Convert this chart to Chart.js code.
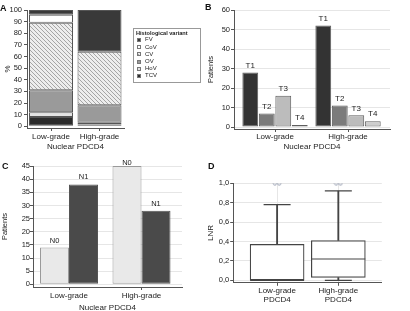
<!DOCTYPE html>
<html><head><meta charset="utf-8">
<script src="https://cdn.jsdelivr.net/npm/chart.js@4"></script>
<style>
body{margin:0;width:410px;height:311px;overflow:hidden;position:relative;background:#fff;font-family:'Liberation Sans',Arial,sans-serif;color:#222}
canvas{position:absolute;display:block}
.lt{position:absolute;font-weight:bold;font-size:9px;line-height:9px;color:#111}
#lg{position:absolute;left:133px;top:28px;width:68px;height:55px;border:1px solid #999;box-sizing:border-box;background:#fff;opacity:0.999;will-change:transform}
#lg .tt{position:absolute;left:2px;top:0;height:8px;line-height:8px;font-size:5.6px;font-weight:bold;white-space:nowrap;color:#222}
#lg .row{position:absolute;left:3px;height:7.2px;line-height:7.2px;font-size:6px;white-space:nowrap;color:#222}
#lg .sw{position:absolute;left:0;top:1.6px;width:4px;height:4px;box-sizing:border-box;border:0.5px solid #777}
#lg .tx{position:absolute;left:8px;top:0}
</style></head><body>
<canvas id="ca" width="205" height="155" style="left:0;top:0"></canvas>
<canvas id="cb" width="205" height="155" style="left:205px;top:0"></canvas>
<canvas id="cc" width="205" height="158" style="left:0;top:155px"></canvas>
<canvas id="cd" width="205" height="156" style="left:205px;top:155px"></canvas>
<div id="lg"></div>
<div class="lt" style="left:0;top:4px">A</div>
<div class="lt" style="left:205px;top:2.5px">B</div>
<div class="lt" style="left:2px;top:162px">C</div>
<div class="lt" style="left:208px;top:162px">D</div>
<script>
// ---------- DATA ----------
const grades = ['Low-grade', 'High-grade'];
// Panel A: histological variant share (%), legend order
const variants = ['FV', 'CoV', 'CV', 'OV', 'HoV', 'TCV'];
const pctLow  = [4, 7, 58, 19, 4, 8];
const pctHigh = [36, 0, 46, 15, 1.5, 1.5];
const ticksA = [0, 10, 20, 30, 40, 50, 60, 70, 80, 90, 100];
// Panel B: T stage counts
const tStages = ['T1', 'T2', 'T3', 'T4'];
const tLow  = [28, 7, 16, 1];
const tHigh = [52, 11, 6, 3];
const ticksB = [0, 10, 20, 30, 40, 50, 60];
// Panel C: N stage counts
const nStages = ['N0', 'N1'];
const nLow  = [14, 38];
const nHigh = [45, 28];
const ticksC = [0, 5, 10, 15, 20, 25, 30, 35, 40, 45];
// Panel D: LNR box plot
const dLabels = [['Low-grade', 'PDCD4'], ['High-grade', 'PDCD4']];
const lnrMin    = [0, 0];
const lnrQ1     = [0, 0.03];
const lnrMedian = [0, 0.22];
const lnrQ3     = [0.37, 0.41];
const lnrMax    = [0.78, 0.92];
const lnrOutliers = [1.0, 1.0];
const ticksD = [0, 0.2, 0.4, 0.6, 0.8, 1.0];

// ---------- STYLE ----------
Chart.defaults.font.family = "'Liberation Sans', Arial, Helvetica, sans-serif";
Chart.defaults.color = '#222';
const FONT = "'Liberation Sans', Arial, Helvetica, sans-serif";

function hatch(ctx) {
  const c = document.createElement('canvas'); c.width = 4; c.height = 4;
  const x = c.getContext('2d');
  x.fillStyle = '#ededed'; x.fillRect(0, 0, 4, 4);
  x.strokeStyle = '#a5a5a5'; x.lineWidth = 1;
  x.beginPath(); x.moveTo(0, 0); x.lineTo(4, 4); x.moveTo(-1, 3); x.lineTo(1, 5); x.moveTo(3, -1); x.lineTo(5, 1); x.stroke();
  return ctx.createPattern(c, 'repeat');
}
const caCtx = document.getElementById('ca').getContext('2d');
const variantColors = ['#393939', '#ffffff', hatch(caCtx), '#9a9a9a', '#e3e3e3', '#2c2c2c'];
const variantCss = ['#393939', '#ffffff', 'repeating-linear-gradient(45deg,#a5a5a5 0 0.8px,#ededed 0.8px 2.5px)', '#9a9a9a', '#e3e3e3', '#2c2c2c'];

function catAxis(labels, min, max, h, tickPad, titleText, titlePad, gridOn) {
  return {
    type: 'linear', min, max, offset: false,
    afterBuildTicks: s => { s.ticks = labels.map((_, i) => ({ value: i + 1 })); },
    afterFit: s => { s.height = h; },
    grid: { offset: false, drawOnChartArea: !!gridOn, color: '#e6e6e6', drawTicks: true, tickLength: 3, tickColor: '#555' },
    border: { display: true, color: '#555', width: 1 },
    ticks: { callback: v => labels[Math.round(v) - 1], font: { size: 8 }, padding: tickPad, maxRotation: 0, autoSkip: false, color: '#222' },
    title: titleText ? { display: true, text: titleText, font: { size: 8 }, padding: { top: 0, bottom: titlePad }, color: '#222' } : { display: false }
  };
}
function valAxis(ticks, min, max, w, tickPad, titleText, titlePad, titleSize, gridOn, fmt) {
  const ax = {
    type: 'linear', min, max,
    afterBuildTicks: s => { s.ticks = ticks.map(v => ({ value: v })); },
    afterFit: s => { s.width = w; },
    grid: { drawOnChartArea: gridOn, color: '#e6e6e6', drawTicks: true, tickLength: 3, tickColor: '#555' },
    border: { display: true, color: '#555', width: 1 },
    ticks: { font: { size: 7.5 }, padding: tickPad, color: '#222', autoSkip: false },
    title: { display: true, text: titleText, font: { size: titleSize }, padding: { top: titlePad, bottom: 0 }, color: '#222' }
  };
  if (fmt) ax.ticks.callback = fmt;
  return ax;
}
const barLabels = {
  id: 'barLabels',
  afterDatasetsDraw(chart, args, opts) {
    const ctx = chart.ctx; ctx.save();
    ctx.font = opts.size + 'px ' + FONT; ctx.fillStyle = '#222';
    ctx.textAlign = 'center'; ctx.textBaseline = 'middle';
    chart.data.datasets.forEach((ds, i) => {
      chart.getDatasetMeta(i).data.forEach(el => {
        const y = Math.max(el.y - opts.gap, chart.chartArea.top - 3);
        ctx.fillText(ds.label, el.x, y);
      });
    });
    ctx.restore();
  }
};
const base = { responsive: false, animation: false, events: [], plugins: { legend: { display: false }, tooltip: { enabled: false } } };

// ---------- A ----------
const dsA = variants.map((v, k) => ({
  label: v,
  data: [pctLow[k], pctHigh[k]].map((p, i) => ({ x: i + 1, y: p })),
  backgroundColor: variantColors[k], borderColor: '#555', borderWidth: 1, borderSkipped: false,
  categoryPercentage: 1, barPercentage: 0.907
})).reverse();
const axA = catAxis(grades, 0.505, 2.505, 27, 1, 'Nuclear PDCD4', 3, false); axA.stacked = true;
const ayA = valAxis(ticksA, -1.5, 100, 27, 2, '%', 3, 8, false); ayA.stacked = true;
new Chart(caCtx, {
  type: 'bar', data: { datasets: dsA },
  options: Object.assign({}, base, { layout: { padding: { top: 10, right: 81, bottom: 0, left: 0 } }, scales: { x: axA, y: ayA } })
});
// legend A (HTML, real text)
const lg = document.getElementById('lg');
lg.innerHTML = '<div class="tt">Histological variant</div>' + variants.map((v, k) =>
  '<div class="row" style="top:' + (7.4 + 7.2 * k) + 'px"><div class="sw" style="background:' + variantCss[k] + '"></div><div class="tx">' + v + '</div></div>').join('');

// ---------- B ----------
const tColors = ['#333333', '#7b7b7b', '#bcbcbc', '#cdcdcd'];
const dsB = tStages.map((t, k) => ({
  label: t,
  data: [tLow[k], tHigh[k]].map((v, i) => ({ x: i + 1, y: v })),
  backgroundColor: tColors[k], borderColor: '#5e5e5e', borderWidth: 1, borderSkipped: false,
  categoryPercentage: 0.904, barPercentage: 0.96
}));
new Chart(document.getElementById('cb'), {
  type: 'bar', data: { datasets: dsB }, plugins: [barLabels],
  options: Object.assign({}, base, {
    layout: { padding: { top: 10, right: 20, bottom: 0, left: 0 } },
    plugins: { legend: { display: false }, tooltip: { enabled: false }, barLabels: { size: 8, gap: 7 } },
    scales: { x: catAxis(grades, 0.438, 2.575, 26, 0, 'Nuclear PDCD4', 3, false), y: valAxis(ticksB, -1, 60, 29, 1, 'Patients', 1.5, 7.5, true) }
  })
});

// ---------- C ----------
const nColors = ['#e9e9e9', '#4a4a4a'];
const nBorders = ['#9a9a9a', '#555555'];
const dsC = nStages.map((n, k) => ({
  label: n,
  data: [nLow[k], nHigh[k]].map((v, i) => ({ x: i + 1, y: v })),
  backgroundColor: nColors[k], borderColor: nBorders[k], borderWidth: 1, borderSkipped: false,
  categoryPercentage: 0.8, barPercentage: 1
}));
new Chart(document.getElementById('cc'), {
  type: 'bar', data: { datasets: dsC }, plugins: [barLabels],
  options: Object.assign({}, base, {
    layout: { padding: { top: 11, right: 23, bottom: 0, left: 0 } },
    plugins: { legend: { display: false }, tooltip: { enabled: false }, barLabels: { size: 7.5, gap: 7 } },
    scales: { x: catAxis(grades, 0.5034, 2.5586, 26, 1, 'Nuclear PDCD4', 0, false), y: valAxis(ticksC, -1, 45, 33, 0, 'Patients', 0, 7.5, true) }
  })
});

// ---------- D ----------
const oo = document.createElement('canvas'); oo.width = 10; oo.height = 5;
(function () { const x = oo.getContext('2d'); x.strokeStyle = '#8e97ac'; x.lineWidth = 0.9;
  x.beginPath(); x.arc(2.8, 2.5, 1.7, 0, Math.PI * 2); x.stroke();
  x.beginPath(); x.arc(7.2, 2.5, 1.7, 0, Math.PI * 2); x.stroke(); })();
const pts = arr => arr.map((v, i) => ({ x: i + 1, y: v }));
const rng = (a, b) => a.map((v, i) => ({ x: i + 1, y: [v, b[i]] }));
const dark = '#444';
const dsD = [
  { type: 'scatter', label: 'outliers', data: pts(lnrOutliers), pointStyle: oo, pointRadius: 3, order: 0 },
  { type: 'scatter', label: 'median', data: pts(lnrMedian), pointStyle: 'line', pointRadius: 27, pointBorderColor: dark, pointBorderWidth: 1.2, order: 0 },
  { type: 'scatter', label: 'max', data: pts(lnrMax), pointStyle: 'line', pointRadius: 13.5, pointBorderColor: dark, pointBorderWidth: 1.2, order: 1 },
  { type: 'scatter', label: 'min', data: pts(lnrMin), pointStyle: 'line', pointRadius: 13.5, pointBorderColor: dark, pointBorderWidth: 1.2, order: 1 },
  { type: 'bar', label: 'box', data: rng(lnrQ1, lnrQ3), backgroundColor: '#fff', borderColor: dark, borderWidth: 1.2, borderSkipped: false, barThickness: 54, grouped: false, order: 2 },
  { type: 'bar', label: 'upper', data: rng(lnrQ3, lnrMax), backgroundColor: dark, borderWidth: 0, barThickness: 1.2, grouped: false, order: 3 },
  { type: 'bar', label: 'lower', data: rng(lnrMin, lnrQ1), backgroundColor: dark, borderWidth: 0, barThickness: 1.2, grouped: false, order: 3 }
];
new Chart(document.getElementById('cd'), {
  type: 'bar', data: { datasets: dsD },
  options: Object.assign({}, base, {
    layout: { padding: { top: 11, right: 2, bottom: 0, left: 0 } },
    scales: {
      x: catAxis(dLabels, 0.283, 2.71, 22, 0, null, 0, true),
      y: valAxis(ticksD, -0.025, 1.0, 27, 1, 'LNR', 0, 8, true, v => v.toFixed(1).replace('.', ','))
    }
  })
});
</script>
</body></html>
